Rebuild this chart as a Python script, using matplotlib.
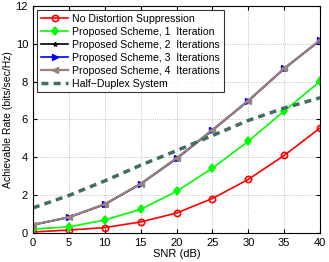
import numpy as np
from matplotlib import pyplot as plt

plt.rcParams['font.family'] = ['Liberation Sans', 'DejaVu Sans']

snr = [0, 5, 10, 15, 20, 25, 30, 35, 40]
no_supp = [0.05, 0.15, 0.28, 0.58, 1.05, 1.82, 2.83, 4.1, 5.55]
iter1 = [0.2, 0.32, 0.68, 1.25, 2.2, 3.42, 4.85, 6.45, 8.02]
iter2 = [0.42, 0.82, 1.5, 2.58, 3.92, 5.42, 6.98, 8.68, 10.18]
iter3 = [0.43, 0.83, 1.52, 2.6, 3.95, 5.45, 7.0, 8.7, 10.2]
iter4 = [0.43, 0.83, 1.52, 2.6, 3.95, 5.45, 7.0, 8.7, 10.2]
half_duplex = [1.32, 1.98, 2.75, 3.58, 4.35, 5.15, 5.95, 6.6, 7.15]

fig = plt.figure(figsize=(3.29, 2.62), dpi=100)
ax = fig.add_axes([0.1, 0.111, 0.873, 0.866])

ax.plot(snr, no_supp, 'r-o', lw=1.2, ms=4.5, mfc='none', mew=1.2, label='No Distortion Suppression')
ax.plot(snr, iter1, '-d', color='#00ff00', lw=1.2, ms=4.5, mew=1.2, label='Proposed Scheme, 1  Iteration')
ax.plot(snr, iter2, 'k-*', lw=1.2, ms=3, label='Proposed Scheme, 2  Iterations')
ax.plot(snr, iter3, 'b->', lw=1.2, ms=5, label='Proposed Scheme, 3  Iterations')
ax.plot(snr, iter4, '-<', color='#9c7f7f', lw=1.6, ms=5, label='Proposed Scheme, 4  Iterations')
ax.plot(snr, half_duplex, '--', color='#3f6f5a', lw=2.5, dashes=(2, 1.5), label='Half\u2212Duplex System')

ax.set_xlim(0, 40)
ax.set_ylim(0, 12)
ax.set_xticks(range(0, 41, 5))
ax.set_yticks(range(0, 13, 2))
ax.grid(True, ls=':', lw=0.6, color='#aaaaaa')
ax.tick_params(labelsize=8, direction='in', length=3, top=True, right=True)
ax.set_xlabel('SNR (dB)', fontsize=8, labelpad=1)
ax.set_ylabel('Achievable Rate (bits/sec/Hz)', fontsize=7.5, labelpad=2)

leg = ax.legend(loc='upper left', fontsize=7.6, handlelength=2.6, borderpad=0.35,
                labelspacing=0.28, handletextpad=0.4, borderaxespad=0.4, fancybox=False)
leg.get_frame().set_edgecolor('black')
leg.get_frame().set_linewidth(0.8)

fig.savefig('out.png', dpi=100)
